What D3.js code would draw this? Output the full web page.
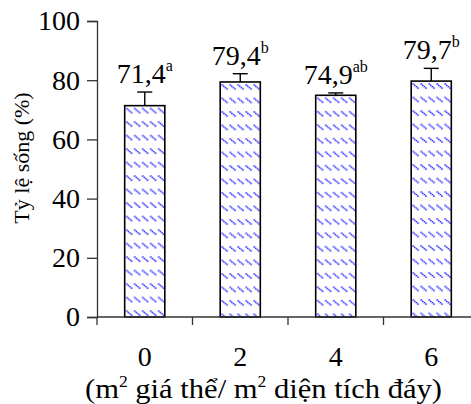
<!DOCTYPE html>
<html>
<head>
<meta charset="utf-8">
<script src="https://cdn.jsdelivr.net/npm/d3@7"></script>
<style>
  body { margin: 0; background: #fff; }
  text { font-family: "Liberation Serif", "Times New Roman", serif; }
</style>
</head>
<body>
<svg id="chart" width="471" height="404"></svg>
<script>
// data
const categories = ["0", "2", "4", "6"];
const values = [71.4, 79.4, 74.9, 79.7];
const errors = [4.6, 2.8, 0.8, 4.3];
const letters = ["a", "b", "ab", "b"];
const yTicks = [0, 20, 40, 60, 80, 100];

const svg = d3.select("#chart");

const x = d3.scaleBand()
    .domain(categories)
    .range([97, 479])
    .paddingInner(0.58)
    .paddingOuter(0.29);

const y = d3.scaleLinear()
    .domain([0, 100])
    .range([317, 21]);

const data = categories.map((c, i) => ({cat: c, v: values[i], e: errors[i], sup: letters[i], i: i}));

// one hatch pattern per bar so the rows start at the bar top
const defs = svg.append("defs");
data.forEach(d => {
    const p = defs.append("pattern")
        .attr("id", "hatch" + d.i)
        .attr("patternUnits", "userSpaceOnUse")
        .attr("x", x(d.cat) + 1)
        .attr("y", y(d.v) + 2)
        .attr("width", 8)
        .attr("height", 13.5);
    p.append("line")
        .attr("x1", 0.5).attr("y1", 0.5)
        .attr("x2", 6.5).attr("y2", 5.5)
        .attr("stroke", "#0a0aff")
        .attr("stroke-width", 1.6)
        .attr("stroke-dasharray", "1.3,0.8");
});

// bars
svg.selectAll(".bar")
    .data(data)
    .enter().append("rect")
    .attr("class", "bar")
    .attr("x", d => x(d.cat))
    .attr("y", d => y(d.v))
    .attr("width", x.bandwidth())
    .attr("height", d => y(0) - y(d.v))
    .attr("fill", d => "url(#hatch" + d.i + ")")
    .attr("stroke", "#000")
    .attr("stroke-width", 1.6);

// error bars
svg.selectAll(".err")
    .data(data)
    .enter().append("line")
    .attr("x1", d => x(d.cat) + x.bandwidth() / 2)
    .attr("x2", d => x(d.cat) + x.bandwidth() / 2)
    .attr("y1", d => y(d.v))
    .attr("y2", d => y(d.v + d.e))
    .attr("stroke", "#000")
    .attr("stroke-width", 1.4);

svg.selectAll(".cap")
    .data(data)
    .enter().append("line")
    .attr("x1", d => x(d.cat) + x.bandwidth() / 2 - 7.5)
    .attr("x2", d => x(d.cat) + x.bandwidth() / 2 + 7.5)
    .attr("y1", d => y(d.v + d.e))
    .attr("y2", d => y(d.v + d.e))
    .attr("stroke", "#000")
    .attr("stroke-width", 1.4);

// value labels with superscript letters
const lab = svg.selectAll(".lab")
    .data(data)
    .enter().append("text")
    .attr("class", "lab")
    .attr("x", d => x(d.cat) + x.bandwidth() / 2)
    .attr("y", d => y(d.v + d.e) - 9)
    .attr("text-anchor", "middle")
    .style("font-size", "28px")
    .attr("fill", "#000");
lab.append("tspan").text(d => String(d.v).replace(".", ","));
lab.append("tspan")
    .attr("dy", -12)
    .style("font-size", "16px")
    .text(d => d.sup);

// y axis
const yAxis = d3.axisLeft(y)
    .tickValues(yTicks)
    .tickSize(10)
    .tickPadding(7);

const gy = svg.append("g")
    .attr("transform", "translate(97,0)")
    .call(yAxis);
gy.select(".domain").attr("stroke", "#333").attr("stroke-width", 1.3);
gy.selectAll(".tick line").attr("stroke", "#333").attr("stroke-width", 1.3);
gy.selectAll(".tick text")
    .style("font-size", "28px")
    .attr("fill", "#000");

// x axis: line plus ticks on category boundaries
svg.append("line")
    .attr("x1", 97).attr("x2", 471)
    .attr("y1", y(0)).attr("y2", y(0))
    .attr("stroke", "#333")
    .attr("stroke-width", 1.3);

const bounds = categories.map(c => x(c) - x.step() * x.paddingOuter());
svg.selectAll(".xtick")
    .data(bounds)
    .enter().append("line")
    .attr("x1", d => d).attr("x2", d => d)
    .attr("y1", y(0)).attr("y2", y(0) + 8)
    .attr("stroke", "#333")
    .attr("stroke-width", 1.3);

svg.selectAll(".xlab")
    .data(categories)
    .enter().append("text")
    .attr("x", d => x(d) + x.bandwidth() / 2)
    .attr("y", 366)
    .attr("text-anchor", "middle")
    .style("font-size", "28px")
    .attr("fill", "#000")
    .text(d => d);

// x title
const xt = svg.append("text")
    .attr("x", 85)
    .attr("y", 398)
    .attr("textLength", 357)
    .attr("lengthAdjust", "spacingAndGlyphs")
    .style("font-size", "28px")
    .attr("fill", "#000");
xt.append("tspan").text("(m");
xt.append("tspan").attr("dy", -11).style("font-size", "16px").text("2");
xt.append("tspan").attr("dy", 11).text(" giá thể/ m");
xt.append("tspan").attr("dy", -11).style("font-size", "16px").text("2");
xt.append("tspan").attr("dy", 11).text(" diện tích đáy)");

// y title
svg.append("text")
    .attr("transform", "translate(29,158) rotate(-90)")
    .attr("text-anchor", "middle")
    .style("font-size", "22px")
    .attr("fill", "#000")
    .text("Tỷ lệ sống (%)");
</script>
</body>
</html>
